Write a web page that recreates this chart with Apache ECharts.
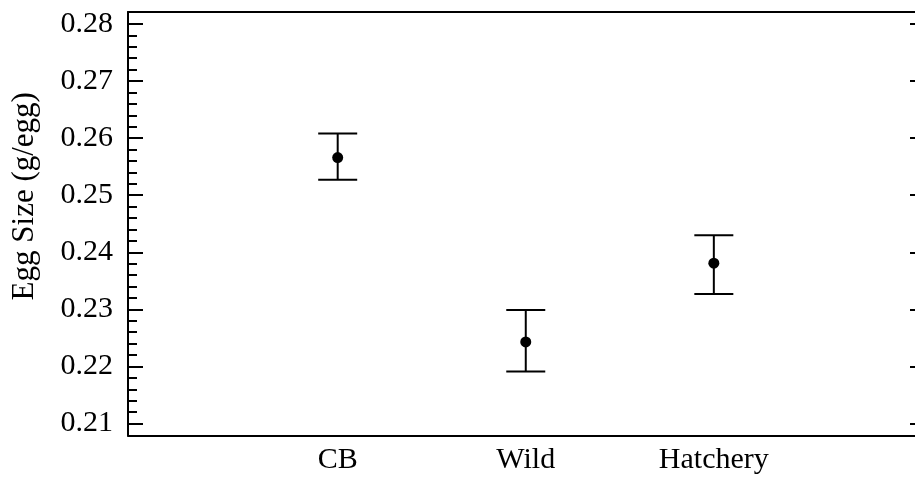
<!DOCTYPE html>
<html>
<head>
<meta charset="utf-8">
<script src="https://cdn.jsdelivr.net/npm/echarts@6/dist/echarts.min.js"></script>
<style>
  html, body { margin: 0; padding: 0; background: #fff; }
  #chart { width: 915px; height: 478px; }
</style>
</head>
<body>
<div id="chart"></div>
<script>
// Egg size by stock group: mean with upper / lower error limits
const categories = ['CB', 'Wild', 'Hatchery'];
const meanValues = [0.2566, 0.2243, 0.2381];
const upperValues = [0.2608, 0.2299, 0.2430];
const lowerValues = [0.2527, 0.2191, 0.2327];
const yTickValues = [0.21, 0.22, 0.23, 0.24, 0.25, 0.26, 0.27, 0.28];

// minor ticks every 0.002 between the labelled values
const yMinorValues = [];
for (let i = 0; i < yTickValues.length - 1; i++) {
  for (let k = 1; k <= 4; k++) {
    yMinorValues.push(+(yTickValues[i] + k * 0.002).toFixed(3));
  }
}

const FONT = '"Liberation Serif", "Times New Roman", serif';
const positions = categories.map((_, i) => i + 1);

const Y_MIN = 0.2079, Y_MAX = 0.2821;
const X_MIN = -0.115, X_MAX = 4.075;

const chart = echarts.init(document.getElementById('chart'), null, { renderer: 'canvas' });

const frameLine = { show: true, onZero: false, lineStyle: { color: '#000', width: 2 } };
const noLine = { show: false, onZero: false };

chart.setOption({
  animation: false,
  backgroundColor: '#fff',
  grid: {
    left: 128, top: 12, right: -1, bottom: 42.5,
    containLabel: false, outerBoundsMode: 'none'
  },
  xAxis: [
    {
      type: 'value', position: 'bottom', min: X_MIN, max: X_MAX,
      splitLine: { show: false },
      axisLine: frameLine,
      axisTick: { show: false },
      axisLabel: {
        customValues: positions,
        formatter: v => categories[Math.round(v) - 1] || '',
        color: '#000', fontFamily: FONT, fontSize: 30, margin: 10
      }
    },
    {
      type: 'value', position: 'top', min: X_MIN, max: X_MAX,
      splitLine: { show: false },
      axisLine: frameLine,
      axisTick: { show: false }, axisLabel: { show: false }
    }
  ],
  yAxis: [
    {
      type: 'value', position: 'left', min: Y_MIN, max: Y_MAX,
      name: 'Egg Size (g/egg)', nameLocation: 'middle', nameRotate: 90, nameGap: 88,
      nameTextStyle: { color: '#000', fontFamily: FONT, fontSize: 31, padding: [0, 0, 0, 55] },
      splitLine: { show: false },
      axisLine: frameLine,
      axisTick: {
        show: true, inside: true, length: 15, customValues: yTickValues,
        lineStyle: { color: '#000', width: 2 }
      },
      axisLabel: {
        customValues: yTickValues, formatter: v => v.toFixed(2),
        color: '#000', fontFamily: FONT, fontSize: 30, margin: 15
      }
    },
    {
      type: 'value', position: 'left', min: Y_MIN, max: Y_MAX,
      splitLine: { show: false }, axisLine: noLine,
      axisTick: {
        show: true, inside: true, length: 9, customValues: yMinorValues,
        lineStyle: { color: '#000', width: 2 }
      },
      axisLabel: { show: false }
    },
    {
      type: 'value', position: 'right', min: Y_MIN, max: Y_MAX,
      splitLine: { show: false }, axisLine: noLine,
      axisTick: {
        show: true, inside: true, length: 6, customValues: yTickValues,
        lineStyle: { color: '#000', width: 2 }
      },
      axisLabel: { show: false }
    }
  ],
  series: [
    {
      name: 'range',
      type: 'custom',
      xAxisIndex: 0, yAxisIndex: 0,
      data: positions.map((x, i) => [x, lowerValues[i], upperValues[i]]),
      renderItem: function (params, api) {
        const x = api.value(0);
        const lo = api.coord([x, api.value(1)]);
        const hi = api.coord([x, api.value(2)]);
        const half = 19.5;
        const style = { stroke: '#000', lineWidth: 2 };
        return {
          type: 'group',
          children: [
            { type: 'line', shape: { x1: hi[0], y1: hi[1], x2: lo[0], y2: lo[1] }, style },
            { type: 'line', shape: { x1: hi[0] - half, y1: hi[1], x2: hi[0] + half, y2: hi[1] }, style },
            { type: 'line', shape: { x1: lo[0] - half, y1: lo[1], x2: lo[0] + half, y2: lo[1] }, style }
          ]
        };
      },
      z: 2
    },
    {
      name: 'mean',
      type: 'scatter',
      xAxisIndex: 0, yAxisIndex: 0,
      data: positions.map((x, i) => [x, meanValues[i]]),
      symbol: 'circle', symbolSize: 11,
      itemStyle: { color: '#000', opacity: 1 },
      z: 3
    }
  ]
});
</script>
</body>
</html>
